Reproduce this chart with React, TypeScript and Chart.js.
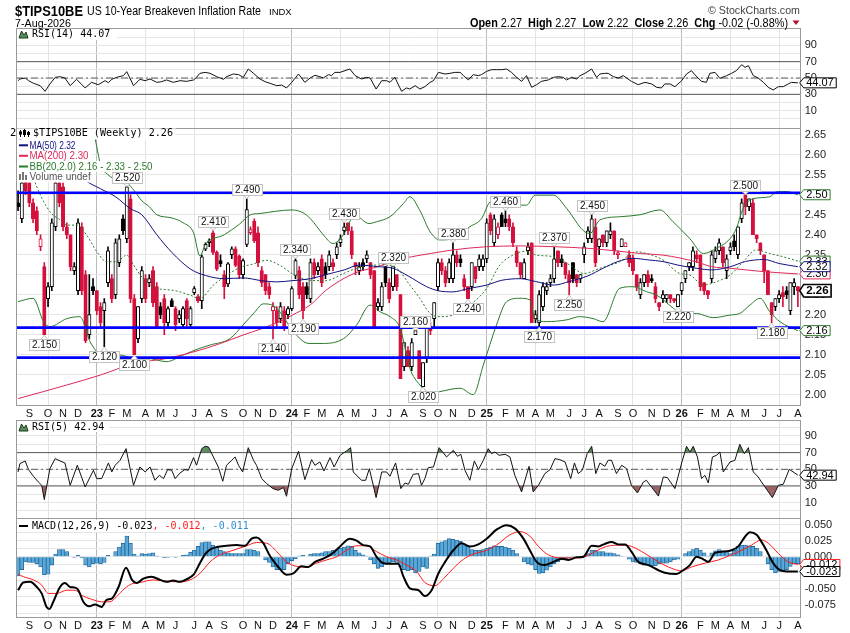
import React, { useEffect, useRef } from 'react';
import { Chart, registerables } from 'chart.js';

Chart.register(...registerables);

// ------------------------------------------------------------------ data
const firstBarDate = '2022-08-12';
const symbol = '$TIPS10BE';
const description = 'US 10-Year Breakeven Inflation Rate';
const exchange = 'INDX';
const chartDate = '7-Aug-2026';

const opens = [
  2.48, 2.44, 2.54, 2.53, 2.48, 2.46, 2.37, 2.32, 2.24, 2.27,
  2.42, 2.53, 2.52, 2.42, 2.40, 2.31, 2.26, 2.42, 2.30, 2.15,
  2.27, 2.26, 2.22, 2.21, 2.28, 2.29, 2.25, 2.33, 2.44, 2.39,
  2.49, 2.24, 2.14, 2.24, 2.29, 2.28, 2.31, 2.27, 2.22, 2.24,
  2.18, 2.235, 2.215, 2.19, 2.175, 2.235, 2.175, 2.255, 2.245, 2.235,
  2.364, 2.38, 2.405, 2.356, 2.335, 2.30, 2.277, 2.35, 2.365, 2.347,
  2.30, 2.376, 2.405, 2.434, 2.405, 2.31, 2.30, 2.27, 2.21, 2.21,
  2.19, 2.21, 2.20, 2.215, 2.298, 2.31, 2.27, 2.27, 2.24, 2.33,
  2.31, 2.34, 2.32, 2.32, 2.33, 2.35, 2.38, 2.41, 2.43, 2.41,
  2.33, 2.31, 2.33, 2.34, 2.33, 2.31, 2.22, 2.22, 2.32, 2.28,
  2.27, 2.30, 2.25, 2.07, 2.11, 2.07, 2.15, 2.11, 2.02, 2.09,
  2.17, 2.19, 2.27, 2.33, 2.31, 2.29, 2.29, 2.35, 2.34, 2.29,
  2.27, 2.27, 2.32, 2.32, 2.32, 2.34, 2.45, 2.38, 2.40, 2.45,
  2.44, 2.44, 2.42, 2.36, 2.33, 2.29, 2.36, 2.38, 2.19, 2.18,
  2.22, 2.26, 2.28, 2.29, 2.36, 2.34, 2.33, 2.30, 2.33, 2.30,
  2.29, 2.35, 2.39, 2.39, 2.42, 2.37, 2.40, 2.38, 2.40, 2.41,
  2.35, 2.37, 2.37, 2.35, 2.34, 2.30, 2.25, 2.28, 2.30, 2.29,
  2.27, 2.23, 2.24, 2.24, 2.25, 2.24, 2.22, 2.26, 2.29, 2.32,
  2.32, 2.35, 2.35, 2.28, 2.26, 2.29, 2.34, 2.36, 2.37, 2.31,
  2.36, 2.385, 2.35, 2.44, 2.50, 2.47, 2.48, 2.40, 2.38, 2.35,
  2.31, 2.23, 2.22, 2.24, 2.255, 2.26, 2.21, 2.27, 2.27,
];
const highs = [
  2.51, 2.54, 2.55, 2.55, 2.49, 2.47, 2.40, 2.33, 2.28, 2.44,
  2.55, 2.55, 2.53, 2.43, 2.40, 2.33, 2.44, 2.43, 2.31, 2.30,
  2.29, 2.26, 2.23, 2.24, 2.37, 2.30, 2.39, 2.40, 2.45, 2.52,
  2.50, 2.25, 2.22, 2.32, 2.30, 2.30, 2.32, 2.28, 2.23, 2.25,
  2.22, 2.24, 2.22, 2.21, 2.22, 2.24, 2.22, 2.27, 2.25, 2.35,
  2.38, 2.39, 2.41, 2.36, 2.35, 2.31, 2.33, 2.37, 2.37, 2.35,
  2.34, 2.49, 2.42, 2.44, 2.42, 2.32, 2.30, 2.28, 2.23, 2.22,
  2.23, 2.22, 2.22, 2.27, 2.34, 2.32, 2.28, 2.28, 2.34, 2.34,
  2.33, 2.35, 2.33, 2.36, 2.34, 2.38, 2.40, 2.43, 2.43, 2.42,
  2.33, 2.33, 2.34, 2.36, 2.33, 2.31, 2.24, 2.28, 2.32, 2.29,
  2.32, 2.30, 2.25, 2.13, 2.12, 2.14, 2.16, 2.11, 2.08, 2.17,
  2.18, 2.23, 2.34, 2.34, 2.32, 2.34, 2.38, 2.36, 2.35, 2.30,
  2.27, 2.33, 2.32, 2.35, 2.35, 2.44, 2.455, 2.45, 2.43, 2.455,
  2.46, 2.45, 2.43, 2.37, 2.33, 2.34, 2.38, 2.38, 2.21, 2.26,
  2.28, 2.28, 2.30, 2.37, 2.36, 2.35, 2.33, 2.31, 2.33, 2.30,
  2.30, 2.38, 2.42, 2.45, 2.44, 2.39, 2.40, 2.41, 2.43, 2.41,
  2.36, 2.39, 2.38, 2.36, 2.35, 2.30, 2.29, 2.30, 2.31, 2.30,
  2.28, 2.23, 2.26, 2.25, 2.25, 2.24, 2.25, 2.28, 2.31, 2.33,
  2.37, 2.36, 2.35, 2.28, 2.26, 2.36, 2.37, 2.39, 2.37, 2.35,
  2.38, 2.40, 2.42, 2.49, 2.50, 2.49, 2.49, 2.40, 2.38, 2.35,
  2.31, 2.23, 2.24, 2.26, 2.27, 2.27, 2.28, 2.29, 2.27,
];
const lows = [
  2.46, 2.43, 2.50, 2.47, 2.43, 2.40, 2.36, 2.15, 2.22, 2.26,
  2.41, 2.47, 2.41, 2.39, 2.31, 2.30, 2.25, 2.25, 2.13, 2.14,
  2.25, 2.20, 2.17, 2.12, 2.27, 2.23, 2.24, 2.32, 2.40, 2.38,
  2.23, 2.10, 2.13, 2.23, 2.23, 2.27, 2.22, 2.17, 2.19, 2.15,
  2.17, 2.22, 2.16, 2.18, 2.17, 2.17, 2.17, 2.25, 2.23, 2.215,
  2.36, 2.37, 2.35, 2.31, 2.32, 2.24, 2.27, 2.34, 2.32, 2.29,
  2.29, 2.37, 2.40, 2.38, 2.32, 2.27, 2.25, 2.24, 2.14, 2.17,
  2.18, 2.16, 2.19, 2.21, 2.29, 2.24, 2.19, 2.24, 2.23, 2.29,
  2.30, 2.27, 2.29, 2.31, 2.31, 2.34, 2.37, 2.40, 2.40, 2.34,
  2.30, 2.30, 2.31, 2.33, 2.29, 2.17, 2.21, 2.21, 2.27, 2.23,
  2.26, 2.26, 2.04, 2.06, 2.07, 2.06, 2.15, 2.04, 2.02, 2.08,
  2.15, 2.17, 2.26, 2.30, 2.27, 2.28, 2.28, 2.32, 2.32, 2.26,
  2.24, 2.26, 2.28, 2.31, 2.31, 2.33, 2.40, 2.37, 2.39, 2.42,
  2.42, 2.41, 2.37, 2.32, 2.29, 2.29, 2.35, 2.18, 2.18, 2.17,
  2.21, 2.25, 2.27, 2.28, 2.32, 2.32, 2.29, 2.25, 2.28, 2.27,
  2.28, 2.33, 2.38, 2.38, 2.32, 2.35, 2.37, 2.37, 2.39, 2.35,
  2.34, 2.37, 2.37, 2.32, 2.30, 2.26, 2.24, 2.27, 2.27, 2.28,
  2.23, 2.21, 2.23, 2.23, 2.23, 2.23, 2.22, 2.25, 2.28, 2.31,
  2.31, 2.33, 2.26, 2.25, 2.24, 2.28, 2.33, 2.35, 2.32, 2.29,
  2.35, 2.36, 2.34, 2.43, 2.45, 2.46, 2.40, 2.38, 2.35, 2.28,
  2.25, 2.18, 2.21, 2.23, 2.22, 2.24, 2.20, 2.25, 2.22,
];
const closes = [
  2.47, 2.53, 2.51, 2.48, 2.44, 2.41, 2.39, 2.15, 2.27, 2.43,
  2.53, 2.48, 2.42, 2.40, 2.32, 2.32, 2.43, 2.26, 2.135, 2.20,
  2.26, 2.21, 2.18, 2.23, 2.36, 2.24, 2.38, 2.39, 2.41, 2.52,
  2.24, 2.10, 2.22, 2.31, 2.24, 2.29, 2.23, 2.17, 2.20, 2.18,
  2.215, 2.22, 2.175, 2.20, 2.215, 2.19, 2.215, 2.265, 2.235, 2.345,
  2.376, 2.385, 2.356, 2.314, 2.327, 2.27, 2.327, 2.365, 2.323, 2.30,
  2.335, 2.463, 2.413, 2.385, 2.33, 2.28, 2.26, 2.25, 2.22, 2.18,
  2.22, 2.17, 2.215, 2.265, 2.335, 2.25, 2.21, 2.25, 2.33, 2.30,
  2.32, 2.28, 2.30, 2.35, 2.32, 2.37, 2.39, 2.42, 2.41, 2.35,
  2.32, 2.32, 2.32, 2.35, 2.30, 2.17, 2.23, 2.27, 2.28, 2.24,
  2.32, 2.27, 2.04, 2.13, 2.07, 2.13, 2.16, 2.04, 2.08, 2.17,
  2.16, 2.23, 2.33, 2.31, 2.28, 2.33, 2.35, 2.33, 2.33, 2.27,
  2.24, 2.33, 2.29, 2.34, 2.34, 2.43, 2.41, 2.44, 2.42, 2.42,
  2.43, 2.42, 2.38, 2.33, 2.30, 2.33, 2.37, 2.18, 2.20, 2.25,
  2.27, 2.27, 2.29, 2.34, 2.33, 2.33, 2.30, 2.28, 2.29, 2.28,
  2.30, 2.37, 2.41, 2.44, 2.33, 2.39, 2.38, 2.41, 2.41, 2.36,
  2.355, 2.39, 2.38, 2.33, 2.31, 2.27, 2.28, 2.30, 2.28, 2.285,
  2.24, 2.22, 2.25, 2.25, 2.24, 2.235, 2.25, 2.28, 2.31, 2.33,
  2.36, 2.34, 2.27, 2.26, 2.25, 2.35, 2.36, 2.38, 2.33, 2.34,
  2.37, 2.37, 2.42, 2.48, 2.47, 2.49, 2.40, 2.39, 2.36, 2.31,
  2.25, 2.20, 2.24, 2.25, 2.245, 2.25, 2.28, 2.28, 2.26,
];

// overlays: [week index, value]
const ma50 = [
  [0, 2.64], [6, 2.62], [12, 2.58], [18, 2.535], [22, 2.515], [26, 2.495], [30, 2.465], [33, 2.45],
  [37, 2.40], [41, 2.356], [46, 2.314], [50, 2.298], [55, 2.29], [60, 2.292], [65, 2.285], [69, 2.282],
  [73, 2.285], [78, 2.29], [82, 2.30], [87, 2.312], [91, 2.324], [96, 2.32], [100, 2.316], [104, 2.297],
  [109, 2.27], [112, 2.26], [116, 2.257], [120, 2.265], [125, 2.274], [129, 2.286], [134, 2.29], [138, 2.283],
  [143, 2.274], [147, 2.283], [152, 2.297], [156, 2.316], [160, 2.333], [164, 2.341], [168, 2.337], [172, 2.333],
  [176, 2.324], [181, 2.316], [185, 2.312], [190, 2.32], [194, 2.333], [199, 2.338], [203, 2.328], [208, 2.32],
];
const ma200 = [
  [0, 1.99], [13, 2.024], [22, 2.049], [31, 2.078], [40, 2.091], [48, 2.11], [54, 2.128], [60, 2.149],
  [65, 2.165], [70, 2.184], [73, 2.198], [78, 2.225], [82, 2.26], [87, 2.291], [91, 2.308], [96, 2.32],
  [101, 2.337], [105, 2.345], [110, 2.353], [116, 2.362], [125, 2.37], [134, 2.372], [143, 2.37], [152, 2.366],
  [160, 2.359], [166, 2.353], [172, 2.349], [181, 2.332], [185, 2.32], [190, 2.316], [199, 2.3075], [208, 2.302],
];
const bbUpper = [
  [0, 2.72], [10, 2.72], [19, 2.70], [20, 2.665], [21, 2.62], [22, 2.575], [24, 2.55], [27, 2.535], [29, 2.53],
  [31, 2.51], [33, 2.485], [35, 2.47], [37, 2.45], [41, 2.442], [44, 2.43], [46.8, 2.405], [48.5, 2.347], [50, 2.376],
  [55, 2.40], [59, 2.426], [62, 2.45], [64.5, 2.453], [69, 2.459], [73, 2.462], [76, 2.455], [78, 2.44],
  [81.4, 2.40], [84, 2.378], [86.8, 2.40], [89.8, 2.449], [93.6, 2.428], [95.6, 2.4325], [99.2, 2.445],
  [102.8, 2.478], [104.5, 2.495], [107.2, 2.46], [109.9, 2.4075], [112.5, 2.387], [116, 2.39], [120.5, 2.42],
  [123.6, 2.44], [125.9, 2.4825], [127.6, 2.487], [132, 2.474], [135.6, 2.474], [137.9, 2.499], [142.8, 2.499],
  [146.3, 2.466], [150.8, 2.41], [152.5, 2.403], [155.2, 2.437], [160.5, 2.445], [165.9, 2.45], [171.2, 2.462],
  [174.7, 2.4325], [179.2, 2.39], [182.8, 2.353], [186.3, 2.366], [189.9, 2.39], [191.6, 2.416], [193.4, 2.466],
  [196, 2.49], [200.5, 2.495], [202.3, 2.5075], [205, 2.508], [208, 2.50],
];
const bbMiddle = [
  [0, 2.62], [3, 2.58], [4.5, 2.532], [8.5, 2.4575], [11.2, 2.4375], [13, 2.424], [15.7, 2.424], [18.3, 2.399],
  [21, 2.3575], [23.6, 2.3325], [26.3, 2.3325], [29, 2.349], [30.8, 2.324], [33.4, 2.29], [37, 2.266],
  [41.3, 2.261], [45.9, 2.249], [48.5, 2.24], [52, 2.273], [55.6, 2.298], [59.2, 2.318], [62.8, 2.327],
  [66.3, 2.336], [69.9, 2.323], [73.4, 2.301], [77.9, 2.286], [82, 2.285], [86.8, 2.303], [90.3, 2.316],
  [93.9, 2.324], [97.4, 2.324], [101, 2.316], [104.5, 2.274], [107.2, 2.24], [109.9, 2.203], [112.5, 2.195],
  [116, 2.199], [120.5, 2.224], [125, 2.266], [128.5, 2.324], [132, 2.349], [135.6, 2.359], [138.3, 2.349],
  [142.8, 2.345], [147.2, 2.324], [150.8, 2.303], [155.2, 2.316], [160.5, 2.3325], [164.9, 2.3575],
  [167.6, 2.353], [172, 2.337], [176.5, 2.303], [179.2, 2.299], [182.8, 2.274], [186.3, 2.2825], [189.9, 2.299],
  [193.4, 2.3325], [196.9, 2.362], [200.5, 2.353], [204, 2.345], [208, 2.334],
];
const bbLower = [
  [0, 2.2325], [4, 2.241], [6.8, 2.1825], [8.5, 2.17], [13, 2.19], [16.5, 2.195], [19.2, 2.1325], [21.9, 2.099],
  [24.5, 2.091], [27.2, 2.099], [30.8, 2.091], [34.3, 2.091], [39.6, 2.0825], [44, 2.099], [48.5, 2.116],
  [51.2, 2.124], [56.5, 2.14], [60, 2.174], [63, 2.205], [65.4, 2.227], [68, 2.223], [70, 2.205], [73.4, 2.158],
  [77.6, 2.128], [81.4, 2.128], [86.8, 2.14], [90.3, 2.174], [93.9, 2.224], [96.5, 2.2075], [99.2, 2.195],
  [101.9, 2.166], [104.5, 2.066], [107.2, 2.024], [109.9, 2.003], [112.5, 2.0075], [117.9, 2.016], [121.4, 2.0],
  [124.1, 2.074], [127.6, 2.174], [130.3, 2.2325], [133.9, 2.241], [136.5, 2.237], [137.9, 2.19], [140.9, 2.1825],
  [146.3, 2.187], [149.8, 2.195], [153.4, 2.19], [156, 2.1825], [160.5, 2.266], [164, 2.27], [167.6, 2.2575],
  [170.3, 2.249], [174.8, 2.216], [177.4, 2.199], [180.9, 2.203], [185.4, 2.1925], [189.9, 2.199], [192.5, 2.203],
  [195.2, 2.224], [197.9, 2.241], [200.5, 2.2075], [203.2, 2.1825], [208, 2.16],
];
const horizontalLevels = [2.505, 2.1675, 2.0925];
// annotated swing points: [week index, 'high' | 'low']
const swingLabels = [
  [7, 'low'], [23, 'low'], [29, 'high'], [31, 'low'], [52, 'high'], [61, 'high'], [68, 'low'], [74, 'high'],
  [76, 'low'], [87, 'high'], [100, 'high'], [106, 'high'], [108, 'low'], [116, 'high'], [120, 'low'],
  [130, 'high'], [139, 'low'], [143, 'high'], [147, 'low'], [153, 'high'], [176, 'low'], [194, 'high'], [201, 'low'],
];

const rsi14 = [
  [0, 46.7], [0.5, 48.8], [1.9, 50], [2.8, 46.7], [4.1, 43.5], [5.9, 40.6], [7.2, 33.7], [8.5, 42.7], [9.9, 50.8],
  [11.2, 51.6], [12.5, 50], [13.9, 40.6], [15.6, 48.4], [17.9, 37.8], [19.6, 44.7], [21.4, 41.8], [23.2, 46.7],
  [24.1, 44.3], [25, 48.4], [26.3, 50.8], [28.1, 52.9], [29, 57.8], [30.8, 40.6], [32.5, 48.4], [33.9, 46.7],
  [35.2, 48.8], [37, 44.7], [38.3, 45.5], [39.6, 47.6], [41.4, 44.7], [43.2, 46.7], [45, 45.9], [46.8, 47.6],
  [47.6, 50.8], [48.5, 55.7], [49.9, 56.9], [51.2, 55.7], [53, 51.6], [53.9, 50], [54.8, 48.4], [55.6, 51.6],
  [57.4, 54.9], [58.8, 54.1], [60.1, 50.8], [61.4, 61], [62.8, 55.7], [64.5, 48.8], [65.9, 45.5], [67.2, 43.5],
  [69, 40.6], [70.3, 41.4], [71.6, 37.8], [73, 44.7], [74.8, 54.9], [76.5, 44.7], [77.9, 50], [79.2, 53.3],
  [80.5, 51.6], [81.4, 50], [82.8, 54.1], [83.6, 52.9], [84.5, 56.9], [85.9, 56.9], [87.2, 59], [88.5, 61],
  [89.9, 52.9], [91.6, 48.8], [93, 50.8], [93.9, 50], [95.5, 36.5], [97, 46.7], [98.3, 46.7], [99.2, 44.7],
  [100.5, 50.8], [102.3, 33.7], [103.6, 37.8], [104.5, 36.5], [105.9, 40.6], [107.2, 36.5], [108.5, 39.4],
  [109.9, 44.7], [110.8, 46.7], [112.1, 56.9], [113.9, 54.9], [115.2, 55.7], [116.5, 56.9], [117.9, 56.9],
  [118.8, 52.9], [120.1, 47.6], [121.4, 54.1], [122.8, 52.9], [123.6, 54.1], [125, 58.2], [126.3, 60.2],
  [127.6, 60.2], [129, 60.2], [130.3, 61], [131.6, 56.9], [133, 50.8], [134.3, 45.9], [135.6, 52.9], [137, 38.6],
  [138.3, 41.8], [139.6, 45.9], [141.4, 47.6], [142.8, 50.8], [144.1, 51.6], [145.4, 50.8], [146.3, 47.6],
  [147.6, 50.8], [149, 48.8], [149.9, 52.9], [151.2, 55.7], [153, 61], [154.3, 50.8], [155.2, 54.9], [156.5, 55.7],
  [157.4, 55.7], [158.8, 51.6], [160.1, 50], [161.4, 52.9], [162.3, 50], [163.6, 45.9], [165.4, 41.8],
  [167.2, 44.7], [169, 42.7], [170.3, 38.6], [171.6, 37.8], [172.5, 42.7], [173.9, 42.7], [175.2, 39.4],
  [177, 46.7], [178.3, 54.9], [179.6, 59], [180.5, 54.1], [182.3, 45.9], [183.6, 44.7], [184.5, 55.7],
  [185.9, 56.9], [187.2, 49.6], [189, 52.9], [190.3, 55.7], [191.6, 59], [193, 66.3], [193.9, 63.1], [194.8, 65.1],
  [196.1, 52.9], [197.4, 50], [198.8, 44.7], [200.1, 38.6], [201.4, 35.3], [202.8, 39.4], [204.1, 39.4],
  [205.4, 42.7], [206.3, 44.7], [208, 44.07],
];
const rsi5 = [
  [0, 46.8], [0.5, 56.8], [1.9, 60], [2.8, 49.6], [4.1, 41.6], [5.4, 34.8], [6.3, 30.8], [7, 13.6], [8.5, 50.8],
  [9.9, 62.8], [11.2, 60], [12.5, 57.6], [13.9, 30.8], [15.8, 54.8], [17.9, 28.8], [20.1, 48.8], [21, 38.8],
  [22.3, 38.8], [24.1, 57.6], [25, 46.8], [25.9, 54.8], [27.2, 60.8], [28.8, 74.8], [30.8, 30.8], [32.5, 52.8],
  [33.9, 46.8], [35.2, 52.8], [36.5, 36.8], [37.7, 42.8], [38.8, 38.8], [39.9, 49.6], [41, 48.8], [41.9, 38.8],
  [43.2, 45.6], [44.5, 49.6], [45.4, 48.8], [46.8, 64], [47.6, 54.8], [49, 74.8], [49.9, 77.6], [50.8, 76.8],
  [52.1, 64.8], [53.4, 52.8], [54.6, 35.6], [55.6, 54.8], [57, 60.8], [57.9, 64.8], [58.8, 54.8], [59.9, 46.8],
  [61.4, 76], [62.8, 60.8], [63.6, 54.8], [65, 38.8], [66.3, 32.8], [68, 26.8], [69.4, 24.8], [70.8, 28],
  [71.6, 17.6], [73, 50.8], [74.8, 71.6], [76.5, 37.6], [78.3, 61.6], [79.2, 54.8], [80.5, 58.8], [81.6, 48],
  [83.2, 64], [84.3, 52.8], [85.9, 66.8], [87.6, 72], [88.7, 76], [89.4, 46.8], [91.6, 36.8], [92.7, 36.8],
  [93.7, 50.8], [95.5, 16], [97, 46.8], [98.3, 46.8], [99.2, 41.6], [100.7, 57.6], [102.1, 26.8], [103.2, 33.6],
  [104.1, 32], [105.4, 44], [106.8, 44.8], [107.6, 30.8], [108.5, 38.8], [109.4, 52], [110.8, 52.8], [112.3, 76],
  [114.3, 64.8], [116.1, 72.8], [117.2, 65.6], [118.1, 68], [119.2, 48.8], [120.5, 36.8], [121.7, 60],
  [122.8, 49.6], [124.1, 60.8], [125.4, 74.8], [126.3, 68.8], [127.2, 70.8], [128.3, 66.8], [129.9, 68],
  [131.2, 64.8], [132.5, 42.8], [134.3, 22.8], [136.3, 53.6], [137.4, 22.8], [138.8, 30.8], [140.5, 44.8],
  [141.9, 49.6], [143.2, 62.8], [144.5, 61.6], [145.9, 58.8], [147.4, 38.8], [148.4, 57.6], [149.4, 44.8],
  [150.5, 48.8], [151.8, 68.8], [153, 77.6], [154.1, 44.8], [155.2, 57.6], [156.5, 53.6], [157.4, 60.8],
  [158.3, 60.8], [159.6, 44.8], [161, 54.8], [162.3, 50.8], [163.6, 30.8], [165.2, 21.6], [166.8, 34.8],
  [167.6, 36.8], [169, 28.4], [170.8, 17.8], [172.1, 40.8], [173.2, 40], [175.2, 26.8], [177, 57.6], [178.3, 77.6],
  [179.2, 70.8], [180.1, 77.6], [181.2, 64.8], [182.3, 38.8], [183.2, 42.8], [184.1, 33.6], [185.2, 64.8],
  [186.3, 66.8], [187.2, 70.8], [188.1, 46.8], [189.9, 58.8], [191.2, 60.8], [192.5, 80], [193.7, 68.8],
  [194.8, 76], [196.1, 46.8], [197.4, 40.8], [199.2, 28.8], [201.2, 16], [202.8, 30.8], [204.1, 32], [205.7, 50],
  [208, 42.94],
];
const macdLine = [
  [0, -0.052], [1.4, -0.040], [3.2, -0.039], [5, -0.047], [6.3, -0.057], [7.6, -0.078], [8.4, -0.081],
  [9.4, -0.070], [11.2, -0.047], [12.5, -0.041], [13.9, -0.047], [15.2, -0.048], [16.1, -0.052], [17.4, -0.070],
  [19, -0.077], [20.5, -0.074], [22.3, -0.078], [23.6, -0.067], [25, -0.065], [26.8, -0.047], [28.8, -0.017],
  [30.4, -0.036], [31.6, -0.041], [33.4, -0.034], [35.6, -0.031], [37.9, -0.036], [39.6, -0.039], [41.4, -0.037],
  [43.2, -0.039], [45, -0.035], [46.8, -0.028], [48.5, -0.010], [49.9, 0.004], [51.2, 0.011], [53, 0.015],
  [55.6, 0.017], [58.3, 0.018], [60.5, 0.017], [62.3, 0.028], [63.6, 0.030], [65.4, 0.021], [67.2, 0.001],
  [69.4, -0.016], [71.6, -0.028], [73.4, -0.026], [75.6, -0.015], [77.4, -0.016], [79.2, -0.008], [81.4, -0.003],
  [83.6, 0.004], [85.9, 0.016], [88.5, 0.028], [90.3, 0.025], [92.1, 0.018], [93.9, 0.016], [95.6, 0.000],
  [97.4, -0.010], [99.6, -0.011], [101.4, -0.011], [102.8, -0.031], [104.5, -0.049], [106.8, -0.052],
  [108.5, -0.061], [110.3, -0.052], [112.1, -0.026], [113.9, -0.008], [116.1, 0.010], [118.3, 0.021],
  [120.5, 0.016], [122.3, 0.018], [125, 0.028], [127.6, 0.042], [130.3, 0.049], [132.5, 0.044], [134.8, 0.028],
  [136.5, 0.010], [138.3, -0.008], [140.5, -0.013], [142.8, -0.008], [145, -0.003], [146.8, -0.005], [149, -0.001],
  [150.8, 0.000], [153, 0.017], [154.8, 0.016], [156.5, 0.020], [158.3, 0.023], [160.1, 0.019], [161.9, 0.019],
  [163.6, 0.008], [165.4, -0.008], [168.1, -0.013], [170.8, -0.021], [172.5, -0.025], [175.6, -0.027],
  [177.4, -0.021], [179.2, -0.013], [181, 0.000], [182.8, -0.004], [184.1, -0.008], [185.9, 0.006], [188.1, 0.008],
  [190.3, 0.010], [192.1, 0.016], [193.9, 0.031], [195.2, 0.038], [197, 0.034], [198.3, 0.023], [199.6, 0.010],
  [201.4, -0.010], [203.2, -0.021], [205, -0.023], [208, -0.023],
];
const signalLine = [
  [0, -0.027], [1.4, -0.031], [4.1, -0.036], [6.3, -0.044], [8.1, -0.057], [10.3, -0.057], [13, -0.052],
  [15.2, -0.052], [17, -0.060], [19.6, -0.066], [22.3, -0.070], [24.5, -0.070], [26.3, -0.062], [28.5, -0.049],
  [30.4, -0.042], [32.5, -0.040], [36.1, -0.036], [39.6, -0.038], [43.2, -0.039], [45.9, -0.036], [48.5, -0.026],
  [51.2, -0.008], [53.9, 0.003], [57.4, 0.010], [61, 0.017], [63.6, 0.022], [66.3, 0.021], [69, 0.008],
  [71.6, -0.008], [74.3, -0.015], [77, -0.016], [79.6, -0.010], [82.3, -0.005], [85, 0.000], [87.6, 0.010],
  [90.3, 0.017], [93, 0.017], [95.6, 0.008], [98.3, 0.000], [101, -0.005], [103.6, -0.013], [106.3, -0.023],
  [108.5, -0.040], [111.2, -0.045], [113.5, -0.034], [116.1, -0.018], [118.8, -0.004], [121.4, 0.004],
  [125, 0.010], [127.6, 0.018], [131.2, 0.034], [133.9, 0.039], [136.5, 0.032], [138.8, 0.016], [141.4, 0.003],
  [145, -0.002], [148.5, -0.002], [151.2, 0.000], [153.9, 0.008], [157, 0.016], [161, 0.018], [163.6, 0.016],
  [167.2, 0.005], [170.8, -0.008], [174.3, -0.018], [177, -0.022], [179.6, -0.016], [183.2, -0.010],
  [186.8, -0.005], [190.3, 0.003], [193, 0.010], [195.6, 0.018], [198.3, 0.026], [200.1, 0.021], [202.8, 0.005],
  [205.4, -0.008], [208, -0.012],
];
const macdHist = [
  -0.030, -0.020, -0.008, -0.009, -0.009, -0.011, -0.016, -0.028, -0.027, -0.013,
  0.004, 0.011, 0.011, 0.008, 0.000, -0.001, 0.002, -0.002, -0.013, -0.016,
  -0.011, -0.010, -0.011, -0.009, 0.002, 0.000, 0.008, 0.015, 0.021, 0.032,
  0.021, 0.004, 0.001, 0.005, 0.004, 0.005, 0.006, 0.001, 0.000, -0.002,
  -0.001, 0.000, -0.001, 0.000, 0.002, 0.003, 0.007, 0.010, 0.016, 0.022,
  0.023, 0.023, 0.018, 0.015, 0.010, 0.008, 0.006, 0.005, 0.005, 0.005,
  0.005, 0.011, 0.011, 0.010, 0.008, 0.000, -0.005, -0.009, -0.016, -0.020,
  -0.020, -0.020, -0.011, -0.006, -0.003, 0.001, 0.002, 0.000, 0.004, 0.005,
  0.005, 0.006, 0.008, 0.008, 0.010, 0.011, 0.013, 0.015, 0.017, 0.016,
  0.010, 0.006, 0.003, 0.001, -0.005, -0.011, -0.018, -0.016, -0.011, -0.010,
  -0.008, -0.009, -0.016, -0.020, -0.022, -0.020, -0.025, -0.023, -0.016,
  -0.018, 0.001, 0.004, 0.021, 0.023, 0.025, 0.028, 0.027, 0.026, 0.024,
  0.020, 0.016, 0.011, 0.010, 0.010, 0.011, 0.013, 0.015, 0.017, 0.016,
  0.016, 0.015, 0.013, 0.010, 0.005, 0.000, -0.008, -0.011, -0.013, -0.020,
  -0.026, -0.025, -0.021, -0.016, -0.011, -0.008, -0.005, -0.004, -0.002, 0.001,
  0.000, -0.001, 0.000, 0.005, 0.010, 0.010, 0.008, 0.008, 0.006, 0.006,
  0.005, 0.003, 0.001, 0.000, -0.004, -0.008, -0.009, -0.011, -0.013, -0.013,
  -0.014, -0.014, -0.011, -0.010, -0.010, -0.008, -0.005, -0.004, 0.000, 0.005,
  0.008, 0.011, 0.013, 0.010, 0.006, 0.001, 0.006, 0.009, 0.011, 0.009,
  0.008, 0.005, 0.010, 0.016, 0.018, 0.018, 0.017, 0.016, 0.013, 0.008,
  0.000, -0.011, -0.020, -0.025, -0.023, -0.022, -0.020, -0.015, -0.011, -0.011,
];

const priceTicks = [2.0, 2.05, 2.1, 2.15, 2.2, 2.25, 2.3, 2.35, 2.4, 2.45, 2.5, 2.55, 2.6, 2.65];
const rsiGridTicks = [0, 10, 20, 30, 40, 50, 60, 70, 80, 90, 100];
const rsiLabelTicks = [10, 30, 50, 70, 90];
const rsiLevels = [70, 50, 30];
const macdGridTicks = [-0.0875, -0.075, -0.0625, -0.05, -0.0375, -0.025, -0.0125, 0, 0.0125, 0.025, 0.0375, 0.05];

// ------------------------------------------------------------------ styling / layout
const FONT = '"Liberation Sans", Arial, sans-serif';
const MONO = '"DejaVu Sans Mono", monospace';
const PLOT_LEFT = 16;
const AXIS_W = 49.3;
const X_MIN = -0.55;
const X_MAX = 208.75;
const C_RED = '#d4103c';
const C_NAVY = '#101080';
const C_MA200 = '#e02858';
const C_GREEN = '#2a7a2a';
const C_LEVEL = '#0000ff';
const C_HIST = '#5aa8d8';
const C_HIST_EDGE = '#23689a';

// canvas placement: plot areas at 28-128, 128-405, 420-518, 518-617 (page px)
const PANEL = {
  rsi14: { top: 0, height: 139, padTop: 28, axisH: 11 },
  price: { top: 117, height: 303, padTop: 11, axisH: 15 },
  rsi5: { top: 409, height: 120, padTop: 11, axisH: 11 },
  macd: { top: 507, height: 126, padTop: 11, axisH: 16 },
};

const DAY = 86400000;
const startMs = Date.parse(firstBarDate + 'T00:00:00Z');
const barDate = (i: number) => new Date(startMs + Math.round(i) * 7 * DAY);
const barMonth = (i: number) => barDate(i).getUTCMonth();
const monthStarts: number[] = [];
for (let i = 1; i < closes.length; i++) if (barMonth(i) !== barMonth(i - 1)) monthStarts.push(i);
const MONTH_LETTERS = 'JFMAMJJASOND';
const monthLabel = (i: number) =>
  barMonth(i) === 0 ? String(barDate(i).getUTCFullYear() % 100).padStart(2, '0') : MONTH_LETTERS[barMonth(i)];
const vGridColor = (i: number) => {
  const m = barMonth(i);
  if (m === 0) return '#b9b9b9';
  if (m % 3 === 0) return '#e3e3e3';
  return 'rgba(0,0,0,0)';
};

const xy = (arr: number[][]) => arr.map(([x, y]) => ({ x, y }));
const lastOf = (arr: number[][]) => arr[arr.length - 1][1];
const LAST = closes.length - 1;
const candleColor = (i: number) => (i > 0 && closes[i] < closes[i - 1] ? C_RED : '#000');
const isHollow = (i: number) => closes[i] > opens[i];

function makeX(showLabels: boolean, axisH: number): any {
  return {
    type: 'linear', position: 'bottom', min: X_MIN, max: X_MAX, offset: false,
    afterBuildTicks: (s: any) => { s.ticks = monthStarts.map((v) => ({ value: v })); },
    afterFit: (s: any) => { s.height = axisH; },
    grid: { offset: false, drawTicks: false, lineWidth: 1, color: (c: any) => vGridColor(c.tick ? c.tick.value : 1) },
    border: { display: false },
    ticks: {
      display: showLabels, autoSkip: false, maxRotation: 0, minRotation: 0, padding: 2, color: '#111',
      font: (c: any) => ({ family: FONT, size: 11, weight: c.tick && barMonth(c.tick.value) === 0 ? 'bold' : 'normal' }),
      callback: (v: any) => monthLabel(v),
    },
  };
}
function makeY(min: number, max: number, ticks: number[], label: (v: number) => string, grid: string): any {
  return {
    type: 'linear', position: 'right', min, max,
    afterBuildTicks: (s: any) => { s.ticks = ticks.map((v) => ({ value: v })); },
    afterFit: (s: any) => { s.width = AXIS_W; },
    grid: { drawTicks: false, color: grid, lineWidth: 1 },
    border: { display: false },
    ticks: { autoSkip: false, padding: 4, color: '#222', font: { family: FONT, size: 11 }, callback: (v: any) => label(Number(v)) },
  };
}
function baseOptions(p: any, scales: any): any {
  return {
    responsive: false, animation: false, events: [],
    layout: { padding: { left: PLOT_LEFT, right: 0, top: p.padTop, bottom: 0 } },
    plugins: { legend: { display: false }, tooltip: { enabled: false } },
    scales,
  };
}

// ------------------------------------------------------------------ drawing helpers
const framePlugin = {
  id: 'frame',
  afterDraw(chart: any) {
    const { ctx, chartArea: a } = chart;
    ctx.save();
    ctx.strokeStyle = '#9a9a9a';
    ctx.lineWidth = 1;
    ctx.strokeRect(Math.round(a.left) + 0.5, Math.round(a.top) + 0.5, Math.round(a.right - a.left) - 1, Math.round(a.bottom - a.top));
    ctx.restore();
  },
};

function valueBox(ctx: any, x: number, y: number, text: string, border: string, bold = false) {
  ctx.save();
  ctx.font = `${bold ? 'bold 11.5px' : '11px'} ${FONT}`;
  const tw = ctx.measureText(text).width;
  const h = bold ? 12.5 : 10;
  const pw = 4;
  const w = tw + 5;
  ctx.beginPath();
  ctx.moveTo(x, y);
  ctx.lineTo(x + pw, y - h / 2);
  ctx.lineTo(x + pw + w, y - h / 2);
  ctx.lineTo(x + pw + w, y + h / 2);
  ctx.lineTo(x + pw, y + h / 2);
  ctx.closePath();
  ctx.fillStyle = '#fff';
  ctx.fill();
  ctx.lineWidth = bold ? 1.6 : 1;
  ctx.strokeStyle = border;
  ctx.stroke();
  ctx.fillStyle = '#000';
  ctx.textBaseline = 'middle';
  ctx.textAlign = 'left';
  ctx.fillText(text, x + pw + 2.5, y + 0.5);
  ctx.restore();
}

function legendBg(ctx: any, x: number, y: number, w: number, h: number) {
  ctx.fillStyle = '#fff';
  ctx.fillRect(x, y, w, h);
}

function mountainIcon(ctx: any, x: number, y: number) {
  ctx.save();
  ctx.beginPath();
  ctx.moveTo(x, y);
  ctx.lineTo(x + 2.5, y - 7);
  ctx.lineTo(x + 5, y - 3);
  ctx.lineTo(x + 7, y - 6);
  ctx.lineTo(x + 9, y);
  ctx.closePath();
  ctx.fillStyle = '#5a8a5a';
  ctx.fill();
  ctx.strokeStyle = '#1d3d1d';
  ctx.lineWidth = 1;
  ctx.stroke();
  ctx.restore();
}

function rsiDatasets(points: number[][]): any[] {
  const pts = xy(points);
  const levels = rsiLevels.map((lv) => ({
    type: 'line', data: [{ x: X_MIN, y: lv }, { x: X_MAX, y: lv }], borderColor: '#5a5a5a', borderWidth: 1,
    borderDash: lv === 50 ? [7, 3, 2, 3] : [], pointRadius: 0, order: 1,
  }));
  return [
    { type: 'line', data: pts, borderColor: '#111', borderWidth: 1, pointRadius: 0, tension: 0, order: 0 },
    ...levels,
    { type: 'line', data: pts, borderColor: 'rgba(0,0,0,0)', borderWidth: 0, pointRadius: 0, order: 2,
      fill: { target: { value: 70 }, above: '#5f8c5f', below: 'rgba(0,0,0,0)' } },
    { type: 'line', data: pts, borderColor: 'rgba(0,0,0,0)', borderWidth: 0, pointRadius: 0, order: 2,
      fill: { target: { value: 30 }, above: 'rgba(0,0,0,0)', below: '#9a6464' } },
  ];
}
const rsiLabel = (v: number) => (rsiLabelTicks.includes(v) ? String(v) : '');

// ------------------------------------------------------------------ chart configs
function rsi14Config(): any {
  const p = PANEL.rsi14;
  return {
    type: 'line',
    data: { datasets: rsiDatasets(rsi14) },
    options: baseOptions(p, { x: makeX(false, p.axisH), y: makeY(-11.2, 111.2, rsiGridTicks, rsiLabel, '#e6e6e6') }),
    plugins: [framePlugin, {
      id: 'rsi14deco',
      afterDraw(chart: any) {
        const { ctx, chartArea: a, scales } = chart;
        ctx.save();
        ctx.translate(0, -p.top);
        // header
        ctx.fillStyle = '#000';
        ctx.textBaseline = 'alphabetic';
        ctx.textAlign = 'left';
        ctx.font = `bold 14px ${FONT}`;
        ctx.fillText(symbol, 15, 15.5, 68);
        ctx.font = `12px ${FONT}`;
        ctx.fillText(description, 87, 15, 174);
        ctx.font = `9.5px ${FONT}`;
        ctx.fillText(exchange, 269, 14.5, 24);
        ctx.font = `11.5px ${FONT}`;
        ctx.fillText(chartDate, 15, 26.5, 56);
        ctx.fillStyle = '#444';
        ctx.textAlign = 'right';
        ctx.fillText('\u00a9 StockCharts.com', 800, 13.5, 92);
        // OHLC line
        const chg = closes[LAST] - closes[LAST - 1];
        const pct = (chg / closes[LAST - 1]) * 100;
        const segs: [string, boolean][] = [
          ['Open', true], [` ${opens[LAST].toFixed(2)}  `, false],
          ['High', true], [` ${highs[LAST].toFixed(2)}  `, false],
          ['Low', true], [` ${lows[LAST].toFixed(2)}  `, false],
          ['Close', true], [` ${closes[LAST].toFixed(2)}  `, false],
          ['Chg', true], [` ${chg.toFixed(2)} (${pct.toFixed(2)}%)`, false],
        ];
        ctx.textAlign = 'left';
        let total = 0;
        segs.forEach(([t, b]) => { ctx.font = `${b ? 'bold ' : ''}12.5px ${FONT}`; total += ctx.measureText(t).width; });
        const sc = 318 / total;
        ctx.save();
        ctx.translate(470, 26.5);
        ctx.scale(sc, 1);
        let cx = 0;
        ctx.fillStyle = '#000';
        segs.forEach(([t, b]) => {
          ctx.font = `${b ? 'bold ' : ''}12.5px ${FONT}`;
          ctx.fillText(t, cx, 0);
          cx += ctx.measureText(t).width;
        });
        ctx.restore();
        ctx.beginPath();
        ctx.moveTo(792.5, 20.5); ctx.lineTo(799.5, 20.5); ctx.lineTo(796, 25);
        ctx.closePath();
        ctx.fillStyle = '#b01030';
        ctx.fill();
        // legend
        legendBg(ctx, a.left + 1, a.top + 1, 100, 11);
        mountainIcon(ctx, 19, 38);
        ctx.fillStyle = '#000';
        ctx.font = `10px ${MONO}`;
        ctx.textBaseline = 'middle';
        ctx.fillText(`RSI(14) ${lastOf(rsi14).toFixed(2)}`, 32, 34.5);
        ctx.restore();
        valueBox(ctx, a.right - 1, scales.y.getPixelForValue(lastOf(rsi14)), lastOf(rsi14).toFixed(2), '#000');
      },
    }],
  };
}

function priceConfig(): any {
  const p = PANEL.price;
  const lineDs = (data: number[][], color: string, extra: any = {}) => ({
    type: 'line', data: xy(data), borderColor: color, borderWidth: 1, pointRadius: 0,
    tension: 0.35, cubicInterpolationMode: 'monotone', order: 1, ...extra,
  });
  return {
    type: 'bar',
    data: {
      datasets: [
        ...horizontalLevels.map((v) => ({
          type: 'line', data: [{ x: X_MIN, y: v }, { x: X_MAX, y: v }], borderColor: C_LEVEL, borderWidth: 2.6, pointRadius: 0, order: 0,
        })),
        lineDs(ma50, C_NAVY),
        lineDs(ma200, C_MA200),
        lineDs(bbUpper, C_GREEN),
        lineDs(bbMiddle, C_GREEN, { borderDash: [2, 2] }),
        lineDs(bbLower, C_GREEN),
        {
          type: 'bar', data: closes.map((c, i) => ({ x: i, y: [opens[i], c] })), grouped: false, order: 2,
          barThickness: 3.4, minBarLength: 1, borderWidth: 1, borderSkipped: false,
          backgroundColor: (c: any) => (isHollow(c.dataIndex) ? '#fff' : candleColor(c.dataIndex)),
          borderColor: (c: any) => candleColor(c.dataIndex),
        },
        {
          type: 'bar', data: lows.map((l, i) => ({ x: i, y: [l, highs[i]] })), grouped: false, order: 3,
          barThickness: 1, borderWidth: 0, backgroundColor: (c: any) => candleColor(c.dataIndex),
        },
      ],
    },
    options: baseOptions(p, { x: makeX(true, p.axisH), y: makeY(1.974, 2.667, priceTicks, (v) => v.toFixed(2), '#e6e6e6') }),
    plugins: [framePlugin, {
      id: 'priceDeco',
      afterDatasetsDraw(chart: any) {
        const { ctx, scales: { x, y } } = chart;
        ctx.save();
        ctx.font = `10px ${FONT}`;
        swingLabels.forEach(([idx, kind]: any) => {
          const val = kind === 'high' ? highs[idx] : lows[idx];
          const px = x.getPixelForValue(idx);
          const py = y.getPixelForValue(val);
          const text = val.toFixed(3);
          const w = ctx.measureText(text).width + 5;
          const h = 11;
          const gap = 4;
          const bx = Math.round(px - w / 2) + 0.5;
          const by = Math.round(kind === 'high' ? py - gap - h : py + gap) + 0.5;
          ctx.beginPath();
          if (kind === 'high') { ctx.moveTo(px - 3.5, by + h); ctx.lineTo(px, py - 0.5); ctx.lineTo(px + 3.5, by + h); }
          else { ctx.moveTo(px - 3.5, by); ctx.lineTo(px, py + 0.5); ctx.lineTo(px + 3.5, by); }
          ctx.closePath();
          ctx.fillStyle = '#fff';
          ctx.strokeStyle = '#c2c2c2';
          ctx.lineWidth = 1;
          ctx.fill();
          ctx.stroke();
          ctx.fillRect(bx, by, w, h);
          ctx.strokeRect(bx, by, w, h);
          ctx.fillStyle = '#111';
          ctx.textBaseline = 'middle';
          ctx.textAlign = 'left';
          ctx.fillText(text, bx + 2.5, by + h / 2 + 0.5);
        });
        ctx.restore();
      },
      afterDraw(chart: any) {
        const { ctx, chartArea: a, scales: { y } } = chart;
        ctx.save();
        ctx.translate(0, -p.top);
        const L = a.left + 1;
        // legend backgrounds (opaque, as in the reference)
        legendBg(ctx, L, 128.5, 159, 11);
        legendBg(ctx, L, 139.5, 61, 11);
        legendBg(ctx, L, 150.5, 75, 11);
        legendBg(ctx, L, 161, 138, 11);
        legendBg(ctx, L, 172, 77, 10.5);
        ctx.textBaseline = 'middle';
        ctx.textAlign = 'left';
        ctx.fillStyle = '#000';
        ctx.font = `10.5px ${MONO}`;
        ctx.fillText('2', 10, 133.5);
        // candle icon
        ctx.fillRect(20, 130, 1, 7); ctx.fillRect(19, 131.5, 3, 3);
        ctx.fillRect(24, 129, 1, 8); ctx.strokeStyle = '#000'; ctx.lineWidth = 1; ctx.strokeRect(23.5, 130.5, 2, 4);
        ctx.fillRect(28, 131, 1, 6); ctx.fillRect(27, 132, 3, 3);
        ctx.fillText(`${symbol} (Weekly) ${closes[LAST].toFixed(2)}`, 33, 133.5, 140);
        const rows: [string, string, number, number][] = [
          [`MA(50) ${lastOf(ma50).toFixed(2)}`, C_NAVY, 145.3, 46],
          [`MA(200) ${lastOf(ma200).toFixed(2)}`, C_MA200, 155.8, 59],
          [`BB(20,2.0) ${lastOf(bbLower).toFixed(2)} - ${lastOf(bbMiddle).toFixed(2)} - ${lastOf(bbUpper).toFixed(2)}`, C_GREEN, 166.5, 123],
        ];
        ctx.font = `10px ${FONT}`;
        rows.forEach(([t, col, yy, mw]) => {
          ctx.fillStyle = col;
          ctx.fillRect(19, yy - 1, 9, 2);
          ctx.fillText(t, 29.5, yy + 0.5, mw);
        });
        ctx.fillStyle = '#777';
        ctx.fillRect(19, 174, 2, 6); ctx.fillRect(22, 172, 2, 8); ctx.fillRect(25, 175, 2, 5);
        ctx.fillStyle = '#555';
        ctx.fillText('Volume undef', 29.5, 177, 62);
        ctx.restore();
        const R = a.right - 1;
        valueBox(ctx, R, y.getPixelForValue(lastOf(bbUpper)), lastOf(bbUpper).toFixed(2), C_GREEN);
        valueBox(ctx, R, y.getPixelForValue(lastOf(bbMiddle)), lastOf(bbMiddle).toFixed(2), C_GREEN);
        valueBox(ctx, R, y.getPixelForValue(lastOf(ma200)), lastOf(ma200).toFixed(2), C_MA200);
        valueBox(ctx, R, y.getPixelForValue(lastOf(ma50)), lastOf(ma50).toFixed(2), C_NAVY);
        valueBox(ctx, R, y.getPixelForValue(lastOf(bbLower)), lastOf(bbLower).toFixed(2), C_GREEN);
        valueBox(ctx, R, y.getPixelForValue(closes[LAST]), closes[LAST].toFixed(2), '#000', true);
      },
    }],
  };
}

function rsi5Config(): any {
  const p = PANEL.rsi5;
  return {
    type: 'line',
    data: { datasets: rsiDatasets(rsi5) },
    options: baseOptions(p, { x: makeX(false, p.axisH), y: makeY(-8.5, 109.2, rsiGridTicks, rsiLabel, '#e6e6e6') }),
    plugins: [framePlugin, {
      id: 'rsi5deco',
      afterDraw(chart: any) {
        const { ctx, chartArea: a, scales } = chart;
        ctx.save();
        ctx.translate(0, -p.top);
        legendBg(ctx, a.left + 1, 421, 92, 11);
        mountainIcon(ctx, 19, 431);
        ctx.fillStyle = '#000';
        ctx.font = `10px ${MONO}`;
        ctx.textBaseline = 'middle';
        ctx.textAlign = 'left';
        ctx.fillText(`RSI(5) ${lastOf(rsi5).toFixed(2)}`, 32, 427.5);
        ctx.restore();
        valueBox(ctx, a.right - 1, scales.y.getPixelForValue(lastOf(rsi5)), lastOf(rsi5).toFixed(2), '#000');
      },
    }],
  };
}

function macdConfig(): any {
  const p = PANEL.macd;
  const macdLabel = (v: number) => {
    const k = v / 0.025;
    return Math.abs(k - Math.round(k)) < 1e-6 ? v.toFixed(3) : '';
  };
  return {
    type: 'bar',
    data: {
      datasets: [
        { type: 'line', data: xy(macdLine), borderColor: '#000', borderWidth: 2, pointRadius: 0, tension: 0.3, cubicInterpolationMode: 'monotone', order: 0 },
        { type: 'line', data: xy(signalLine), borderColor: '#ff1a1a', borderWidth: 1, pointRadius: 0, tension: 0.3, cubicInterpolationMode: 'monotone', order: 1 },
        {
          type: 'bar', data: macdHist.map((v, i) => ({ x: i, y: v })), grouped: false, order: 2,
          barThickness: 3.77, backgroundColor: C_HIST, borderColor: C_HIST_EDGE, borderWidth: 0.8, borderSkipped: 'start',
        },
      ],
    },
    options: baseOptions(p, { x: makeX(true, p.axisH), y: makeY(-0.0936, 0.0601, macdGridTicks, macdLabel, '#e6e6e6') }),
    plugins: [framePlugin, {
      id: 'macdDeco',
      afterDraw(chart: any) {
        const { ctx, chartArea: a, scales } = chart;
        ctx.save();
        ctx.translate(0, -p.top);
        legendBg(ctx, a.left + 1, 520, 232, 12);
        ctx.fillStyle = '#000';
        ctx.fillRect(19, 525, 9, 2);
        ctx.font = `10px ${MONO}`;
        ctx.textBaseline = 'middle';
        ctx.textAlign = 'left';
        const parts: [string, string][] = [
          [`MACD(12,26,9) ${lastOf(macdLine).toFixed(3)}`, '#000'],
          [`, ${lastOf(signalLine).toFixed(3)}`, '#ff1a1a'],
          [`, ${macdHist[LAST].toFixed(3)}`, '#2f8fcf'],
        ];
        let cx = 32;
        parts.forEach(([t, col]) => {
          ctx.fillStyle = col;
          ctx.fillText(t, cx, 526.5);
          cx += ctx.measureText(t).width;
        });
        ctx.restore();
        valueBox(ctx, a.right - 1, scales.y.getPixelForValue(lastOf(signalLine)), lastOf(signalLine).toFixed(3), '#ff1a1a');
        valueBox(ctx, a.right - 1, scales.y.getPixelForValue(lastOf(macdLine)), lastOf(macdLine).toFixed(3), '#000');
      },
    }],
  };
}

// ------------------------------------------------------------------ component
export default function App() {
  const r1 = useRef<HTMLCanvasElement>(null);
  const r2 = useRef<HTMLCanvasElement>(null);
  const r3 = useRef<HTMLCanvasElement>(null);
  const r4 = useRef<HTMLCanvasElement>(null);

  useEffect(() => {
    document.body.style.margin = '0';
    const charts: Chart[] = [];
    if (r1.current) charts.push(new Chart(r1.current, rsi14Config()));
    if (r2.current) charts.push(new Chart(r2.current, priceConfig()));
    if (r3.current) charts.push(new Chart(r3.current, rsi5Config()));
    if (r4.current) charts.push(new Chart(r4.current, macdConfig()));
    return () => charts.forEach((c) => c.destroy());
  }, []);

  const cs = (p: any): any => ({ position: 'absolute', left: 0, top: p.top, width: 850, height: p.height });
  return (
    <div style={{ position: 'relative', width: 850, height: 633, background: '#fff', overflow: 'hidden' }}>
      <canvas ref={r1} width={850} height={PANEL.rsi14.height} style={cs(PANEL.rsi14)} />
      <canvas ref={r2} width={850} height={PANEL.price.height} style={cs(PANEL.price)} />
      <canvas ref={r3} width={850} height={PANEL.rsi5.height} style={cs(PANEL.rsi5)} />
      <canvas ref={r4} width={850} height={PANEL.macd.height} style={cs(PANEL.macd)} />
    </div>
  );
}
